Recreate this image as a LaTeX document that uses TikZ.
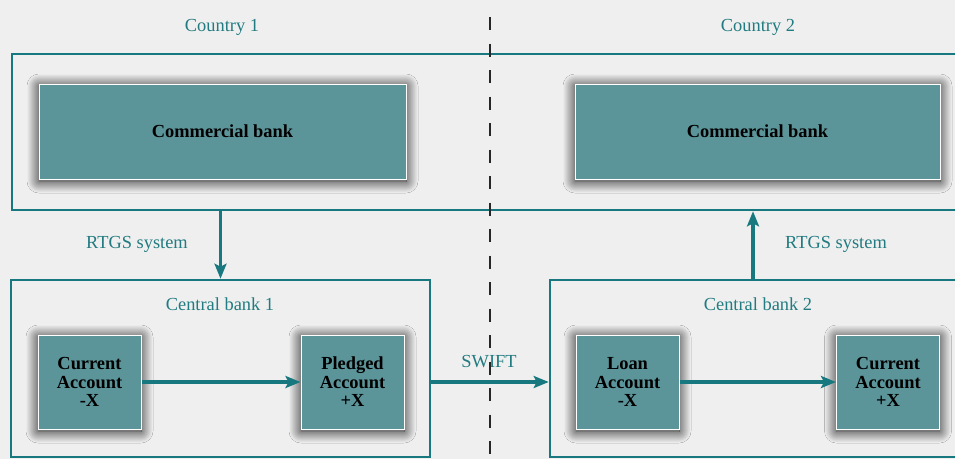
\documentclass[tikz,border=0pt]{standalone}
\usepackage{fontspec}
\setmainfont{Liberation Serif}
\usetikzlibrary{shadows.blur,arrows.meta}
\definecolor{bg}{HTML}{EFEFEF}
\definecolor{teal1}{HTML}{17797F}
\definecolor{boxfill}{HTML}{5B9499}
\definecolor{tealtxt}{HTML}{217B80}
\tikzset{
 lbl/.style={text=tealtxt,font=\fontsize{18.4}{20}\selectfont,inner sep=0pt,anchor=base},
 acct/.style={fill=boxfill,draw=white,line width=1pt,inner sep=0pt,align=center,
   font=\fontsize{18.4}{18.5}\selectfont\bfseries,
   blur shadow={shadow xshift=0pt,shadow yshift=-2pt,shadow blur radius=12pt,
     shadow blur steps=30,shadow opacity=95,shadow blur extra rounding=0pt}},
 frame/.style={draw=teal1,line width=2.6pt,inner sep=0pt},
 conn/.style={draw=teal1,line width=3.5pt,-{Stealth[length=15pt,width=12pt,inset=3pt]}},
 divider/.style={line width=1.2pt,dash pattern=on 13pt off 13.5pt,black!85},
}
\begin{document}
\begin{tikzpicture}[x=1pt,y=-1pt]
\useasboundingbox (0,0) rectangle (955,459);
\fill[bg] (0,0) rectangle (955,459);
\clip (0,0) rectangle (955,459);
% frames
\node[frame, minimum width=953pt, minimum height=156pt] (outer) at (488.5,132) {};
\node[frame, minimum width=419pt, minimum height=177pt] (cbk1) at (220.5,368.5) {};
\node[frame, minimum width=415pt, minimum height=177pt] (cbk2) at (757.5,368.5) {};
% commercial banks
\node[acct, minimum width=367pt, minimum height=95pt] (com1) at (222.5,131.5) {Commercial bank};
\node[acct, minimum width=365pt, minimum height=95pt] (com2) at (757.5,131.5) {Commercial bank};
% accounts
\node[acct, minimum width=103pt, minimum height=94pt] (cur1) at (89.5,382) {Current\\Account\\-X};
\node[acct, minimum width=103pt, minimum height=94pt] (pl1) at (352.5,382) {Pledged\\Account\\+X};
\node[acct, minimum width=103pt, minimum height=94pt] (loan2) at (627.5,382) {Loan\\Account\\-X};
\node[acct, minimum width=103pt, minimum height=94pt] (cur2) at (888,382) {Current\\Account\\+X};
% labels
\node[lbl] (lc1) at (222,31.5) {Country 1};
\node[lbl] (lc2) at (758,31.5) {Country 2};
\node[lbl] (lr1) at (137,248) {RTGS system};
\node[lbl] (lr2) at (836,248) {RTGS system};
\node[lbl] (lcb1) at (220,310) {Central bank 1};
\node[lbl] (lcb2) at (758,310) {Central bank 2};
\node[lbl] (lsw) at (489,367) {SWIFT};
% connectors
\draw[conn] (cur1) -- (pl1);
\draw[conn] (loan2) -- (cur2);
\draw[conn] (cbk1.east |- pl1.center) -- (cbk2.west |- pl1.center);
\draw[conn] (cbk1.north |- outer.south) -- (cbk1.north);
\coordinate (up2) at (753,280);
\draw[conn] (up2) -- (up2 |- outer.south);
% divider
\coordinate (dtop) at (490,17);
\coordinate (dbot) at (490,470);
\draw[divider] (dtop) -- (dbot);
\end{tikzpicture}
\end{document}
